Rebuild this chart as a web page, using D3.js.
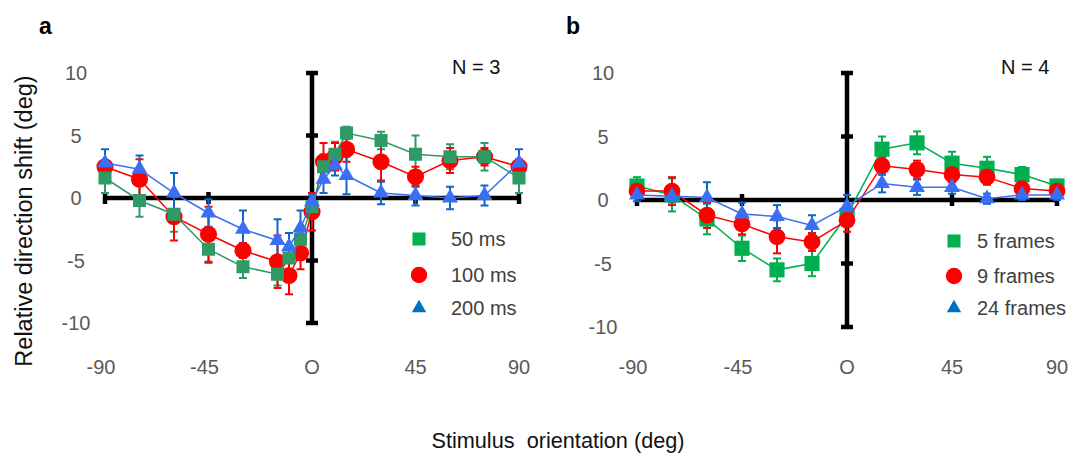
<!DOCTYPE html>
<html>
<head>
<meta charset="utf-8">
<script src="https://cdnjs.cloudflare.com/ajax/libs/d3/7.8.5/d3.min.js"></script>
<style>
	body { margin: 0; background: #fff; }
	svg { display: block; font-family: "Liberation Sans", Arial, sans-serif; }
	.tick-label { fill: #595959; font-size: 20px; }
	.legend-label { fill: #404040; font-size: 20px; }
</style>
</head>
<body>
<svg id="chart" width="1071" height="454"></svg>
<script>
'use strict';

// ---- data ----
var xTicks = [-90, -45, 0, 45, 90];
var xTickLabels = ['-90', '-45', 'O', '45', '90'];
var yTicks = [10, 5, 0, -5, -10];

// panel a: presentation duration
var xA = [-90, -75, -60, -45, -30, -15, -10, -5, 0, 5, 10, 15, 30, 45, 60, 75, 90];
var a50 = [1.6, -0.2, -1.3, -4.1, -5.5, -6.1, -4.8, -3.3, -0.7, 2.5, 3.5, 5.2, 4.6, 3.5, 3.3, 3.3, 1.6];
var a50err = [1.2, 1.3, 1.4, 1.1, 0.9, 0.9, 1.0, 1.0, 0.6, 1.0, 1.0, 0.5, 0.7, 1.5, 1.0, 1.1, 1.2];
var a100 = [2.5, 1.5, -1.5, -2.9, -4.2, -5.1, -6.2, -4.4, -1.1, 2.9, 3.3, 3.9, 2.9, 1.7, 3.0, 3.3, 2.5];
var a100err = [0.5, 1.6, 1.9, 2.2, 0.6, 2.1, 1.5, 1.3, 1.5, 1.5, 1.1, 1.0, 1.5, 0.8, 1.0, 0.7, 0.6];
var a200 = [2.8, 2.3, 0.4, -1.2, -2.5, -3.4, -3.9, -2.4, -0.3, 1.5, 2.6, 1.8, 0.4, 0.2, 0.0, 0.2, 2.8];
var a200err = [1.1, 1.1, 1.6, 1.1, 1.5, 1.7, 1.1, 1.4, 0.5, 1.1, 0.8, 1.5, 0.9, 0.8, 0.9, 0.8, 1.1];
var labelsA = ['50 ms', '100 ms', '200 ms'];

// panel b: number of frames
var xB = [-90, -75, -60, -45, -30, -15, 0, 15, 30, 45, 60, 75, 90];
var b5 = [1.1, 0.4, -1.5, -3.8, -5.5, -5.0, -1.2, 4.0, 4.5, 2.9, 2.5, 2.0, 1.1];
var b5err = [0.7, 1.3, 1.2, 1.0, 0.9, 1.0, 0.6, 1.0, 0.9, 0.9, 0.9, 0.6, 0.5];
var b9 = [0.7, 0.7, -1.2, -1.9, -2.9, -3.3, -1.6, 2.7, 2.4, 2.0, 1.8, 0.9, 0.7];
var b9err = [0.5, 1.1, 1.0, 0.8, 1.3, 0.7, 0.9, 0.7, 0.7, 0.6, 0.6, 0.5, 0.4];
var b24 = [0.4, 0.3, 0.2, -1.1, -1.3, -2.0, -0.5, 1.3, 1.0, 1.0, 0.1, 0.4, 0.4];
var b24err = [0.5, 0.5, 1.2, 0.9, 0.9, 0.8, 0.9, 0.7, 0.6, 0.5, 0.4, 0.4, 0.4];
var labelsB = ['5 frames', '9 frames', '24 frames'];

var RED = "#ff0000";
var BLUE = "#3a6ef5";
var BLUE_ERR = "#0b68c8";
var BLUE_LEG = "#0070c0";
var GREEN_LEG = "#00b050";

var svg = d3.select('#chart');

function drawPanel(opt) {
	var x = d3.scaleLinear().domain([-90, 90]).range(opt.xRange);
	var y = d3.scaleLinear().domain([-10, 10]).range(opt.yRange);
	var g = svg.append('g');

	// axes crossing at origin
	var ax = g.append('g').attr('stroke', '#000').attr('stroke-width', 4.5);
	ax.append('line')
		.attr('x1', x(-90)).attr('x2', x(90))
		.attr('y1', y(0)).attr('y2', y(0));
	ax.append('line')
		.attr('x1', x(0)).attr('x2', x(0))
		.attr('y1', y(10)).attr('y2', y(-10));
	ax.selectAll('.xt')
		.data(xTicks.filter(function (d) { return d !== 0; }))
		.enter().append('line')
			.attr('x1', function (d) { return x(d); })
			.attr('x2', function (d) { return x(d); })
			.attr('y1', y(0) - 6).attr('y2', y(0) + 6);
	ax.selectAll('.yt')
		.data(yTicks.filter(function (d) { return d !== 0; }))
		.enter().append('line')
			.attr('x1', x(0) - 6).attr('x2', x(0) + 6)
			.attr('y1', function (d) { return y(d); })
			.attr('y2', function (d) { return y(d); });

	// tick labels
	g.selectAll('.xl')
		.data(xTicks)
		.enter().append('text')
			.attr('class', 'tick-label')
			.attr('x', function (d) { return x(d) - (d < 0 ? 4 : 0); })
			.attr('y', 374)
			.attr('text-anchor', 'middle')
			.text(function (d, i) { return xTickLabels[i]; });
	g.selectAll('.yl')
		.data(yTicks)
		.enter().append('text')
			.attr('class', 'tick-label')
			.attr('x', opt.yLabelX)
			.attr('y', function (d) { return y(d); })
			.attr('dy', '0.35em')
			.attr('text-anchor', 'middle')
			.text(function (d) { return d; });

	// error bars, under everything
	opt.series.forEach(function (s) {
		var eb = g.append('g').attr('stroke', s.errColor).attr('stroke-width', 2);
		s.values.forEach(function (v, i) {
			var cx = x(opt.xs[i]), lo = y(v - s.err[i]), hi = y(v + s.err[i]);
			eb.append('line').attr('x1', cx).attr('x2', cx).attr('y1', lo).attr('y2', hi);
			eb.append('line').attr('x1', cx - 4).attr('x2', cx + 4).attr('y1', lo).attr('y2', lo);
			eb.append('line').attr('x1', cx - 4).attr('x2', cx + 4).attr('y1', hi).attr('y2', hi);
		});
	});

	var line = d3.line()
		.x(function (d) { return x(d[0]); })
		.y(function (d) { return y(d[1]); });

	opt.drawOrder.forEach(function (k) {
		var s = opt.series[k];
		var pts = s.values.map(function (v, i) { return [opt.xs[i], v]; });
		g.append('path')
			.attr('d', line(pts))
			.attr('fill', 'none')
			.attr('stroke', s.color)
			.attr('stroke-width', 1.5);
		g.selectAll(null)
			.data(pts)
			.enter().append('path')
				.attr('transform', function (d) { return 'translate(' + x(d[0]) + ',' + y(d[1]) + ')'; })
				.attr('d', d3.symbol().type(s.shape).size(s.size))
				.attr('fill', s.color);
	});

	// legend
	var lg = g.append('g');
	opt.series.forEach(function (s, i) {
		var ly = opt.legendY[i];
		lg.append('path')
			.attr('transform', 'translate(' + opt.legendX + ',' + ly + ')')
			.attr('d', d3.symbol().type(s.shape).size(s.legSize))
			.attr('fill', s.legColor);
		lg.append('text')
			.attr('class', 'legend-label')
			.attr('x', opt.legendTextX)
			.attr('y', ly)
			.attr('dy', '0.35em')
			.text(s.label);
	});

	g.append('text')
		.attr('x', opt.nX).attr('y', 74)
		.attr('font-size', 20).attr('fill', '#111')
		.text(opt.nText);

	g.append('text')
		.attr('x', opt.letterX).attr('y', 34)
		.attr('font-size', 23).attr('font-weight', 'bold').attr('fill', '#000')
		.text(opt.letter);
}

drawPanel({
	xRange: [105, 519], yRange: [323, 73], yLabelX: 76,
	xs: xA,
	letter: 'a', letterX: 39, nText: 'N = 3', nX: 452,
	legendX: 419, legendTextX: 451, legendY: [239, 275, 308],
	drawOrder: [1, 0, 2],
	series: [
		{ values: a50, err: a50err, label: labelsA[0], color: '#2f9a66', errColor: '#2f9a66', legColor: GREEN_LEG, shape: d3.symbolSquare, size: 170, legSize: 170 },
		{ values: a100, err: a100err, label: labelsA[1], color: RED, errColor: RED, legColor: RED, shape: d3.symbolCircle, size: 230, legSize: 210 },
		{ values: a200, err: a200err, label: labelsA[2], color: BLUE, errColor: BLUE_ERR, legColor: BLUE_LEG, shape: d3.symbolTriangle, size: 110, legSize: 90 }
	]
});

drawPanel({
	xRange: [637, 1057], yRange: [327, 73], yLabelX: 603,
	xs: xB,
	letter: 'b', letterX: 566, nText: 'N = 4', nX: 1001,
	legendX: 954, legendTextX: 977, legendY: [241, 276, 308],
	drawOrder: [0, 1, 2],
	series: [
		{ values: b5, err: b5err, label: labelsB[0], color: GREEN_LEG, errColor: GREEN_LEG, legColor: GREEN_LEG, shape: d3.symbolSquare, size: 230, legSize: 170 },
		{ values: b9, err: b9err, label: labelsB[1], color: RED, errColor: RED, legColor: RED, shape: d3.symbolCircle, size: 220, legSize: 210 },
		{ values: b24, err: b24err, label: labelsB[2], color: BLUE, errColor: BLUE_ERR, legColor: BLUE_LEG, shape: d3.symbolTriangle, size: 110, legSize: 90 }
	]
});

// shared axis titles
svg.append('text')
	.attr('transform', 'translate(32,221) rotate(-90)')
	.attr('text-anchor', 'middle')
	.attr('font-size', 23.5).attr('fill', '#111')
	.text('Relative direction shift (deg)');

svg.append('text')
	.attr('x', 558).attr('y', 448)
	.attr('text-anchor', 'middle')
	.attr('font-size', 21.7).attr('fill', '#111')
	.style('white-space', 'pre')
	.text('Stimulus  orientation (deg)');
</script>
</body>
</html>
